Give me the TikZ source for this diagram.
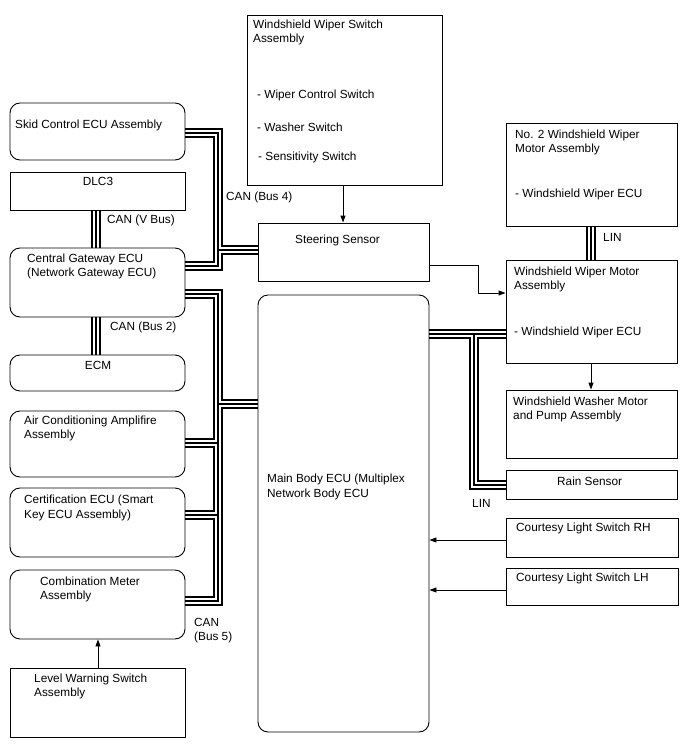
\documentclass[tikz,border=0pt]{standalone}
\usepackage{fontspec}
\setmainfont{Liberation Sans}
\usetikzlibrary{arrows.meta,fit,backgrounds}
\begin{document}
\begin{tikzpicture}[x=1pt,y=-1pt,
  box/.style={draw, line width=0.9pt, inner sep=0pt},
  rbox/.style={box, rounded corners=10pt},
  txt/.style={anchor=base west, inner sep=0pt, font=\fontsize{11.8}{14}\selectfont},
  ctxt/.style={txt, anchor=base},
  arr/.style={line width=0.9pt, -{Triangle[length=7pt,width=5pt]}},
  bus/.style={line width=10pt, line join=miter,
    postaction={draw, white, line width=6pt, line join=miter},
    postaction={draw, black, line width=2pt, line join=miter}}]
\useasboundingbox (0,0) rectangle (688,755);

% boxes
\node[rbox, fit={(10,103) (185,160)}] (skid) {};
\node[box,  fit={(10,172) (185,210)}] (dlc) {};
\node[rbox, fit={(10,248) (185,317)}] (cgw) {};
\node[rbox, fit={(10,355) (185,391)}] (ecm) {};
\node[rbox, fit={(10,411) (185,477)}] (air) {};
\node[rbox, fit={(10,488) (185,557)}] (cert) {};
\node[rbox, fit={(10,570) (185,639)}] (comb) {};
\node[box,  fit={(10,668) (185,737)}] (lvl) {};
\node[box,  fit={(247,15) (442,185)}] (wsw) {};
\node[box,  fit={(258,223) (429,281)}] (steer) {};
\node[rbox, fit={(258,295) (429,732)}] (main) {};
\node[box,  fit={(506,123) (677,226)}] (no2) {};
\node[box,  fit={(506,260) (677,363)}] (wipm) {};
\node[box,  fit={(506,390) (677,458)}] (wash) {};
\node[box,  fit={(506,470) (677,499)}] (rain) {};
\node[box,  fit={(506,518) (678,557)}] (crh) {};
\node[box,  fit={(506,568) (678,605)}] (clh) {};

% texts
\node[txt] (tskid) at (15,128) {Skid Control ECU Assembly};
\node[ctxt] (tdlc) at (98,185) {DLC3};
\node[txt] (tcanv) at (107,223) {CAN (V Bus)};
\node[txt] (tcgw1) at (27,262) {Central Gateway ECU};
\node[txt] (tcgw2) at (27,276) {(Network Gateway ECU)};
\node[txt] (tcan2) at (110,330) {CAN (Bus 2)};
\node[ctxt] (tecm) at (98,369) {ECM};
\node[txt] (tair1) at (24,424) {Air Conditioning Amplifire};
\node[txt] (tair2) at (24,438) {Assembly};
\node[txt] (tcert1) at (24,503) {Certification ECU (Smart};
\node[txt] (tcert2) at (24,518) {Key ECU Assembly)};
\node[txt] (tcomb1) at (40,585) {Combination Meter};
\node[txt] (tcomb2) at (40,599) {Assembly};
\node[txt] (tcan5a) at (194,626) {CAN};
\node[txt] (tcan5b) at (194,640) {(Bus 5)};
\node[txt] (tlvl1) at (34,682) {Level Warning Switch};
\node[txt] (tlvl2) at (34,696) {Assembly};
\node[txt] (twsw1) at (253,28) {Windshield Wiper Switch};
\node[txt] (twsw2) at (253,42) {Assembly};
\node[txt] (twsw3) at (257,98) {- Wiper Control Switch};
\node[txt] (twsw4) at (257,131) {- Washer Switch};
\node[txt] (twsw5) at (258,160) {- Sensitivity Switch};
\node[txt] (tcan4) at (226,200) {CAN (Bus 4)};
\node[txt] (tsteer) at (295,243) {Steering Sensor};
\node[txt] (tmain1) at (267,482) {Main Body ECU (Multiplex};
\node[txt] (tmain2) at (267,497) {Network Body ECU};
\node[txt] (tno21) at (515,138) {No. 2 Windshield Wiper};
\node[txt] (tno22) at (515,152) {Motor Assembly};
\node[txt] (tno23) at (515,197) {- Windshield Wiper ECU};
\node[txt] (tlin1) at (603,241) {LIN};
\node[txt] (twipm1) at (514,275) {Windshield Wiper Motor};
\node[txt] (twipm2) at (514,289) {Assembly};
\node[txt] (twipm3) at (514,335) {- Windshield Wiper ECU};
\node[txt] (twash1) at (513,405) {Windshield Washer Motor};
\node[txt] (twash2) at (513,419) {and Pump Assembly};
\node[txt] (train) at (557,485) {Rain Sensor};
\node[txt] (tlin2) at (472,507) {LIN};
\node[txt] (tcrh) at (516,531) {Courtesy Light Switch RH};
\node[txt] (tclh) at (516,581) {Courtesy Light Switch LH};

% buses
\begin{pgfonlayer}{background}
\fill[white] (0,0) rectangle (688,755);
\draw[bus]
  % CAN (Bus 4)
  (skid.east |- 0,133) -- (218,133) -- (218,266) -- (cgw.east |- 0,266)
  (218,250) -- (steer.west |- 0,250)
  % CAN (Bus 5)
  (cgw.east |- 0,294) -- (218,294) -- (218,601) -- (comb.east |- 0,601)
  (218,404) -- (main.west |- 0,404)
  (air.east |- 0,443) -- (218,443)
  (cert.east |- 0,515) -- (218,515)
  % CAN (V Bus), CAN (Bus 2)
  (96,0 |- dlc.south) -- (96,0 |- cgw.north)
  (96,0 |- cgw.south) -- (96,0 |- ecm.north)
  % LIN
  (591,0 |- no2.south) -- (591,0 |- wipm.north)
  (main.east |- 0,334) -- (wipm.west |- 0,334)
  (474,334) -- (474,485) -- (rain.west |- 0,485);
\end{pgfonlayer}

% arrows
\draw[arr] (wsw.south -| 343,0) -- (steer.north -| 343,0);
\draw[arr] (steer.east |- 0,265) -- (478,265) -- (478,293) -- (wipm.west |- 0,293);
\draw[arr] (wipm.south -| 591,0) -- (wash.north -| 591,0);
\draw[arr] (crh.west |- 0,540) -- (main.east |- 0,540);
\draw[arr] (clh.west |- 0,590) -- (main.east |- 0,590);
\draw[arr] (lvl.north -| 98,0) -- (comb.south -| 98,0);
\end{tikzpicture}
\end{document}
